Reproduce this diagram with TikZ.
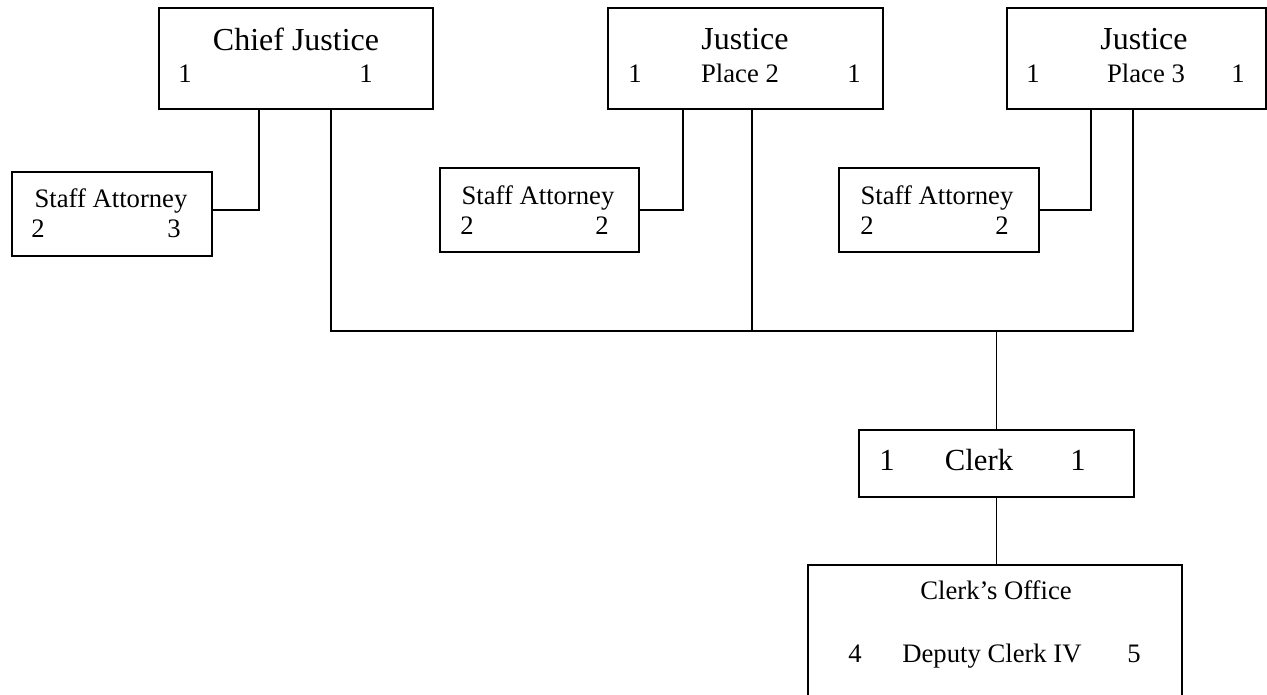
\documentclass[tikz,border=0pt]{standalone}
\usepackage{fontspec}
\setmainfont{Liberation Serif}
\usepackage{tikz}
\usetikzlibrary{fit}

\begin{document}
\begin{tikzpicture}[x=0.75pt, y=-0.75pt, line width=1.1pt]
	\tikzstyle{box} = [draw, line width=1.1pt, inner sep=0pt]
	\tikzstyle{big} = [font=\fontsize{24}{28}\selectfont, inner sep=0pt, anchor=base]
	\tikzstyle{clerkfont} = [font=\fontsize{23}{27}\selectfont, inner sep=0pt, anchor=base]
	\tikzstyle{small} = [font=\fontsize{20}{24}\selectfont, inner sep=0pt, anchor=base]
	\useasboundingbox (0,0) rectangle (1267,694);
	\begin{scope}
	  % boxes
	  \node[box, fit={(159,8) (433,109)}] (cj) {};
	  \node[box, fit={(608,8) (883,109)}] (j2) {};
	  \node[box, fit={(1007,8) (1266,109)}] (j3) {};
	  \node[box, fit={(12,172) (212,256)}] (sa1) {};
	  \node[box, fit={(440,168) (639,252)}] (sa2) {};
	  \node[box, fit={(839,168) (1039,252)}] (sa3) {};
	  \node[box, fit={(859,430) (1134,497)}] (clerk) {};
	  \node[box, fit={(808,565) (1182,720)}] (office) {};
	  % texts
	  \path
	  node[big] (cjT) at (296,50) {Chief Justice}
	  node[small] (cjL) at (185,82) {1}
	  node[small] (cjR) at (366,82) {1}
	  node[big] (j2T) at (745,49) {Justice}
	  node[small] (j2L) at (635,82) {1}
	  node[small] (j2P) at (740,82) {Place 2}
	  node[small] (j2R) at (854,82) {1}
	  node[big] (j3T) at (1144,49) {Justice}
	  node[small] (j3L) at (1033,82) {1}
	  node[small] (j3P) at (1146,82) {Place 3}
	  node[small] (j3R) at (1238,82) {1}
	  node[small] (sa1T) at (111,207) {Staff Attorney}
	  node[small] (sa1L) at (38,237) {2}
	  node[small] (sa1R) at (174,237) {3}
	  node[small] (sa2T) at (538,204) {Staff Attorney}
	  node[small] (sa2L) at (467,234) {2}
	  node[small] (sa2R) at (602,234) {2}
	  node[small] (sa3T) at (937,204) {Staff Attorney}
	  node[small] (sa3L) at (867,234) {2}
	  node[small] (sa3R) at (1002,234) {2}
	  node[clerkfont] (clL) at (887,470) {1}
	  node[clerkfont] (clT) at (979,470) {Clerk}
	  node[clerkfont] (clR) at (1078,470) {1}
	  node[small] (ofT) at (996,599) {Clerk’s Office}
	  node[small] (ofL) at (855,662) {4}
	  node[small] (ofD) at (992,662) {Deputy Clerk IV}
	  node[small] (ofR) at (1134,662) {5}
	  ;
	  % connectors
	  \coordinate (busL) at (331,331);
	  \coordinate (busR) at (1133,331);
	  \draw (cj.south -| 259,0) |- ([yshift=3pt]sa1.east);
	  \draw[line width=1.6pt] (j2.south -| 683,0) |- (sa2.east);
	  \draw (j3.south -| 1091,0) |- (sa3.east);
	  \draw (cj.south -| busL) -- (busL) -- (busR) -- (j3.south -| busR);
	  \draw (j2.south -| 752,0) -- (busL -| 752,0);
	  \draw (busL -| clerk.north) -- (clerk.north);
	  \draw (clerk.south) -- (office.north -| clerk.south);
	\end{scope}
\end{tikzpicture}
\end{document}
